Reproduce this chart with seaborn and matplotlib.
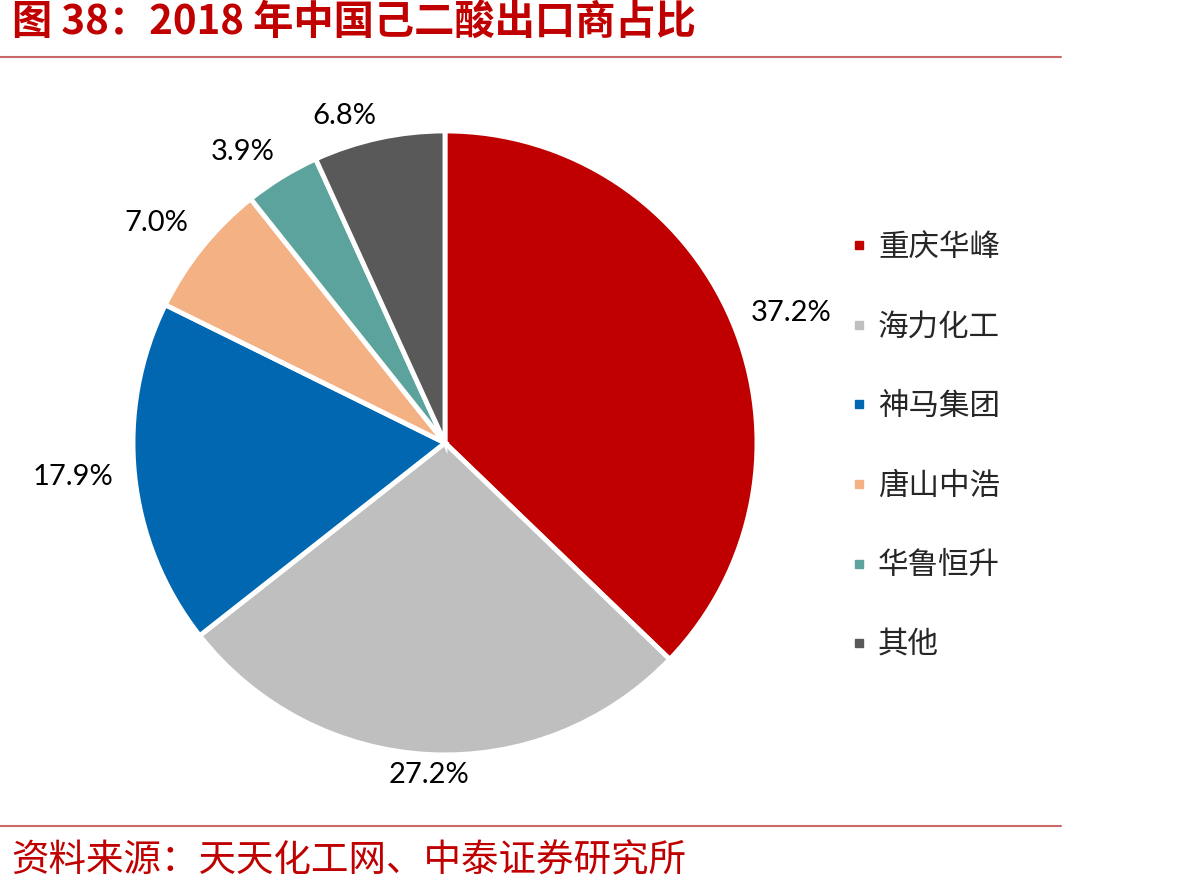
import numpy as np
import matplotlib
matplotlib.use("Agg")
import matplotlib.pyplot as plt
import seaborn as sns
from matplotlib.lines import Line2D

# data
companies = ['重庆华峰', '海力化工', '神马集团', '唐山中浩', '华鲁恒升', '其他']
shares = [37.2, 27.2, 17.9, 7.0, 3.9, 6.8]
colors = ['#C00000', '#BFBFBF', '#0067B0', '#F4B183', '#5BA39C', '#595959']

title = '图 38：2018 年中国己二酸出口商占比'
source = '资料来源：天天化工网、中泰证券研究所'

sns.set_theme(style='white')
plt.rcParams['font.family'] = ['Noto Sans CJK SC', 'DejaVu Sans']

fig = plt.figure(figsize=(11.93, 8.93), dpi=100)
ax = fig.add_axes([0.1115, 0.1545, 0.523, 0.699])

wedges, _ = ax.pie(shares, colors=colors, startangle=90, counterclock=False,
                   radius=1.0,
                   wedgeprops=dict(edgecolor='white', linewidth=3.5))
ax.set_xlim(-1, 1)
ax.set_ylim(-1, 1)
ax.set_aspect('equal')
ax.axis('off')

# percentage labels just outside the slices
for w, v in zip(wedges, shares):
    ang = np.deg2rad((w.theta1 + w.theta2) / 2)
    c, s = np.cos(ang), np.sin(ang)
    r = 1.02 + 0.05 * abs(c)
    ha = 'left' if c > 0.15 else ('right' if c < -0.15 else 'center')
    va = 'bottom' if s > 0.45 else ('top' if s < -0.45 else 'center')
    ax.text(r * c, r * s, f'{v:.1f}%', ha=ha, va=va, fontsize=21,
            family=['Lato', 'DejaVu Sans'], color='black')

handles = [Line2D([0], [0], marker='s', linestyle='none', markersize=6,
                  markerfacecolor=col, markeredgecolor=col) for col in colors]
fig.legend(handles, companies, loc='upper left', bbox_to_anchor=(0.6996, 0.754),
           frameon=False, fontsize=22, labelspacing=1.59, handletextpad=0.22,
           handlelength=0.8, borderaxespad=0)

# title, rules and source
fig.text(0.01, 0.975, title, ha='left', va='center', fontsize=29,
         fontweight='bold', color='#C00000')
fig.add_artist(Line2D([0, 0.889], [0.936, 0.936], color='#C0504D',
                      linewidth=1.5, alpha=0.85, transform=fig.transFigure))
fig.add_artist(Line2D([0, 0.889], [0.075, 0.075], color='#C0504D',
                      linewidth=1.5, alpha=0.85, transform=fig.transFigure))
fig.text(0.009, 0.036, source, ha='left', va='center', fontsize=27,
         color='#C00000')

fig.savefig('out.png', dpi=100)
